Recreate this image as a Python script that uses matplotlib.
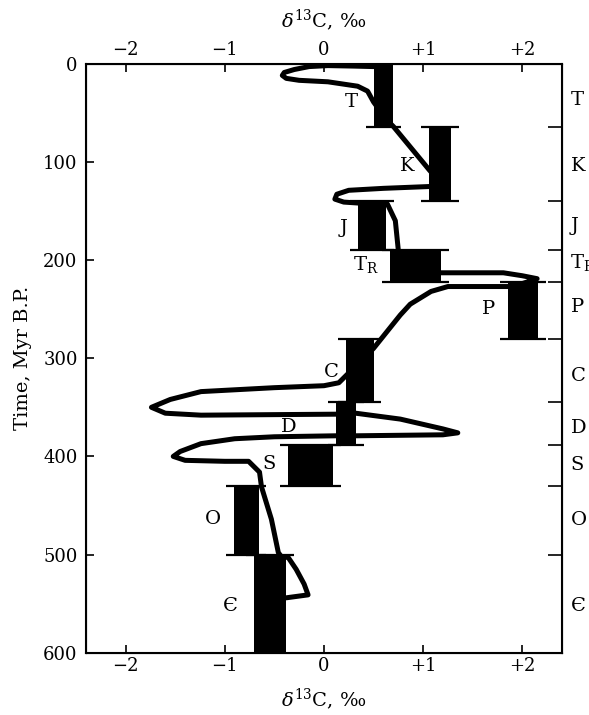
import matplotlib
matplotlib.use("Agg")
import matplotlib.pyplot as plt
import matplotlib.transforms as mtransforms

plt.rcParams['font.family'] = ['DejaVu Serif']
plt.rcParams['mathtext.fontset'] = 'dejavuserif'

# --- data ---
periods = ["T", "K", "J", "T$_\\mathregular{R}$", "P", "C", "D", "S", "O", "Є"]
age_top = [0, 65, 140, 190, 222, 280, 345, 388, 430, 500]
age_base = [65, 140, 190, 222, 280, 345, 388, 430, 500, 600]
d13c_low = [0.50, 1.06, 0.34, 0.67, 1.86, 0.22, 0.12, -0.36, -0.91, -0.71]
d13c_high = [0.70, 1.28, 0.63, 1.18, 2.16, 0.50, 0.32, 0.09, -0.66, -0.38]

# traced curve (d13C, Myr)
curve_x = [0.50, 0.30, 0.04, -0.15, -0.30, -0.40, -0.42, -0.38, -0.25, 0.04, 0.34, 0.44, 0.50,
           0.58, 0.66, 0.70, 1.06, 1.12, 1.10, 0.60, 0.25, 0.13, 0.11, 0.20, 0.35, 0.55, 0.64,
           0.72, 0.75, 0.80, 1.18, 1.81, 2.00, 2.15, 2.00, 1.86, 1.25, 1.08, 0.87, 0.77, 0.50,
           0.35, 0.22, 0.15, 0.00, -0.50, -1.24, -1.55, -1.74, -1.60, -1.24, 0.12, 0.32, 0.77,
           1.20, 1.35, 1.20, 0.32, 0.12, -0.50, -0.90, -1.24, -1.45, -1.52, -1.40, -1.00, -0.76,
           -0.65, -0.63, -0.53, -0.46, -0.43, -0.36, -0.28, -0.20, -0.16, -0.38]
curve_y = [3, 2.5, 2, 3, 6, 9, 12, 15, 17, 18.5, 23, 28, 39,
           50, 60, 64, 108, 115, 125, 127, 129, 133, 138, 141, 142, 142, 143,
           160, 190, 205, 213, 213, 216, 219, 224, 227, 227, 232, 245, 256, 290,
           305, 318, 325, 328, 330, 334, 342, 350, 356, 358, 357, 356, 362,
           372, 376, 378, 379, 379, 380, 382, 387, 395, 400, 404, 405, 405,
           416, 431, 464, 498, 502, 503, 515, 530, 541, 544]

label_x = [0.28, 0.84, 0.20, 0.42, 1.66, 0.07, -0.36, -0.55, -1.12, -0.94]
label_y = [39, 104, 167, 205, 250, 314, 370, 408, 464, 552]
right_label_y = [37, 104, 165, 203, 248, 318, 371, 409, 465, 552]

xticks = [-2, -1, 0, 1, 2]
xtick_labels = ["\u22122", "\u22121", "0", "+1", "+2"]
yticks = [0, 100, 200, 300, 400, 500, 600]

fig = plt.figure(figsize=(5.89, 7.15), dpi=100)
ax = fig.add_axes([0.146, 0.087, 0.808, 0.824])

# bars with caps
durations = [b - t for t, b in zip(age_top, age_base)]
widths = [h - l for l, h in zip(d13c_low, d13c_high)]
centers = [(t + b) / 2 for t, b in zip(age_top, age_base)]
ax.barh(centers, widths, left=d13c_low, height=durations, color='black', zorder=3)
cap = 0.08
for i in range(len(periods)):
    for yy in (age_top[i], age_base[i]):
        if yy in (0, 600):
            continue
        ax.hlines(yy, d13c_low[i] - cap, d13c_high[i] + cap, color='black', lw=1.6, zorder=3)

ax.plot(curve_x, curve_y, color='black', lw=3.6, solid_joinstyle='round',
        solid_capstyle='round', zorder=4)

for name, lx, ly in zip(periods, label_x, label_y):
    ax.text(lx, ly, name, ha='center', va='center', fontsize=14, zorder=5)

trans = mtransforms.blended_transform_factory(ax.transAxes, ax.transData)
for name, ly in zip(periods, right_label_y):
    ax.text(1.018, ly, name, ha='left', va='center', fontsize=14, transform=trans,
            clip_on=False)

ax.set_xlim(-2.4, 2.4)
ax.set_ylim(600, 0)
ax.set_xticks(xticks)
ax.set_xticklabels(xtick_labels)
ax.set_yticks(yticks)
ax.tick_params(axis='both', which='major', direction='in', length=6, width=1.2,
               labelsize=13, top=True, labeltop=True, left=True, right=False)
ax.tick_params(axis='x', pad=3)
ax.tick_params(axis='y', length=6, pad=6)
for s in ax.spines.values():
    s.set_linewidth(1.5)

# period boundaries on right spine
ax2 = ax.twinx()
ax2.set_ylim(600, 0)
ax2.set_yticks(age_base[:-1])
ax2.set_yticklabels([])
ax2.tick_params(axis='y', direction='in', length=10, width=1.2)

ax.set_xlabel("$\\delta^{13}$C, \u2030", fontsize=14, labelpad=8)
ax.text(0.5, 1.052, "$\\delta^{13}$C, \u2030", transform=ax.transAxes, ha='center',
        va='bottom', fontsize=14)
ax.set_ylabel("Time, Myr B.P.", fontsize=14, labelpad=8)

fig.savefig("out.png", dpi=100)
